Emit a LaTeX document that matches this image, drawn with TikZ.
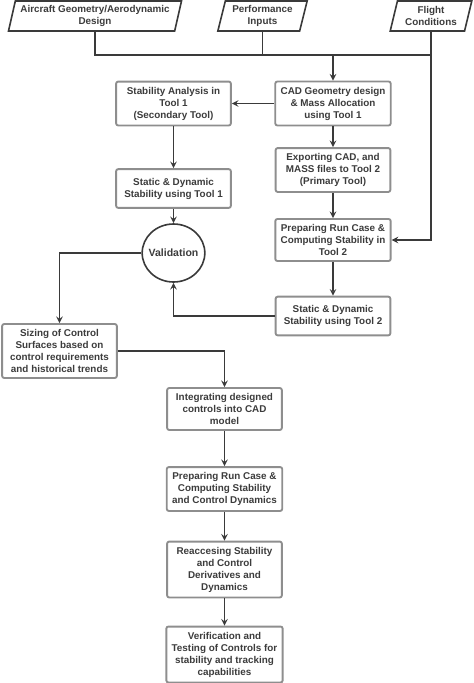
\documentclass[tikz,border=0pt]{standalone}
\usepackage{fontspec}
\setmainfont{Liberation Sans}
\usetikzlibrary{shapes.geometric, arrows}

\definecolor{textgray}{HTML}{3C3C3C}
\definecolor{boxgray}{HTML}{8E8E8E}
\definecolor{linegray}{HTML}{3A3A3A}

\begin{document}
\begin{tikzpicture}[
                x=0.75pt, y=-0.75pt,
                every node/.style={font=\fontsize{7.4}{9}\selectfont\bfseries, text=textgray},
                process/.style={rectangle, rounded corners=1.5pt, minimum width=86pt, minimum height=29pt, inner sep=4pt, draw=boxgray, line width=1.4pt, fill=white, align=center},
                data/.style={trapezium, trapezium left angle=76, trapezium right angle=104, trapezium stretches=true, minimum height=22.5pt, inner sep=2pt, draw=linegray, line width=1.2pt, fill=white, align=center},
                decision/.style={ellipse, inner xsep=-2.2pt, inner ysep=0pt, minimum width=47pt, minimum height=43.5pt, draw=linegray, line width=1.2pt, font=\fontsize{7.9}{9}\selectfont\bfseries},
                line/.style={draw=linegray, line width=1.2pt},
                arrow/.style={line,->,>=stealth}
            ]
                \useasboundingbox (0,0) rectangle (474,683);

                % Inputs
                \node (aero) [data, minimum width=130pt] at (95,16) {Aircraft Geometry/Aerodynamic\\Design};
                \node (perf) [data, minimum width=67pt] at (262.5,16) {Performance\\Inputs};
                \node (flight) [data, minimum width=61.5pt] at (431,16) {Flight\\Conditions};
                \coordinate (merge) at (333,55);

                % Nodes
                \node (cad) [process] at (333,103.5) {CAD Geometry design\\\& Mass Allocation\\using Tool 1};
                \node (sa) [process] at (173.5,103.5) {Stability Analysis in\\Tool 1\\(Secondary Tool)};
                \node (sd1) [process] at (173.5,188.5) {Static \& Dynamic\\Stability using Tool 1};
                \node (valid) [decision] at (173.5,253) {Validation};
                \node (exp) [process] at (333,170) {Exporting CAD, and\\MASS files to Tool 2\\(Primary Tool)};
                \node (prep) [process] at (333,240) {Preparing Run Case \&\\Computing Stability in\\Tool 2};
                \node (sd2) [process] at (333,316) {Static \& Dynamic\\Stability using Tool 2};
                \node (sizing) [process] at (59.5,351) {Sizing of Control\\Surfaces based on\\control requirements\\and historical trends};
                \node (integ) [process] at (224.5,409) {Integrating designed\\controls into CAD\\model};
                \node (prep2) [process] at (224.5,489) {Preparing Run Case \&\\Computing Stability\\and Control Dynamics};
                \node (reacc) [process] at (224.5,569.5) {Reaccesing Stability\\and Control\\Derivatives and\\Dynamics};
                \node (verif) [process] at (224.5,654.5) {Verification and\\Testing of Controls for\\stability and tracking\\capabilities};

                % Arrows
                \draw [line] (aero.south) |- (merge -| flight.south);
                \draw [line] (perf.south) -- (perf.south |- merge);
                \draw [arrow] (merge) -- (cad);
                \draw [arrow] (flight.south) |- (prep.east);
                \draw [arrow] (cad) -- (sa);
                \draw [arrow] (sa) -- (sd1);
                \draw [arrow] (sd1) -- (valid);
                \draw [arrow] (cad) -- (exp);
                \draw [arrow] (exp) -- (prep);
                \draw [arrow] (prep) -- (sd2);
                \draw [arrow] (sd2.west) -| (valid.south);
                \draw [arrow] (valid.west) -| (sizing.north);
                \draw [arrow] (sizing.east) -| (integ.north);
                \draw [arrow] (integ) -- (prep2);
                \draw [arrow] (prep2) -- (reacc);
                \draw [arrow] (reacc) -- (verif);

            \end{tikzpicture}
\end{document}
